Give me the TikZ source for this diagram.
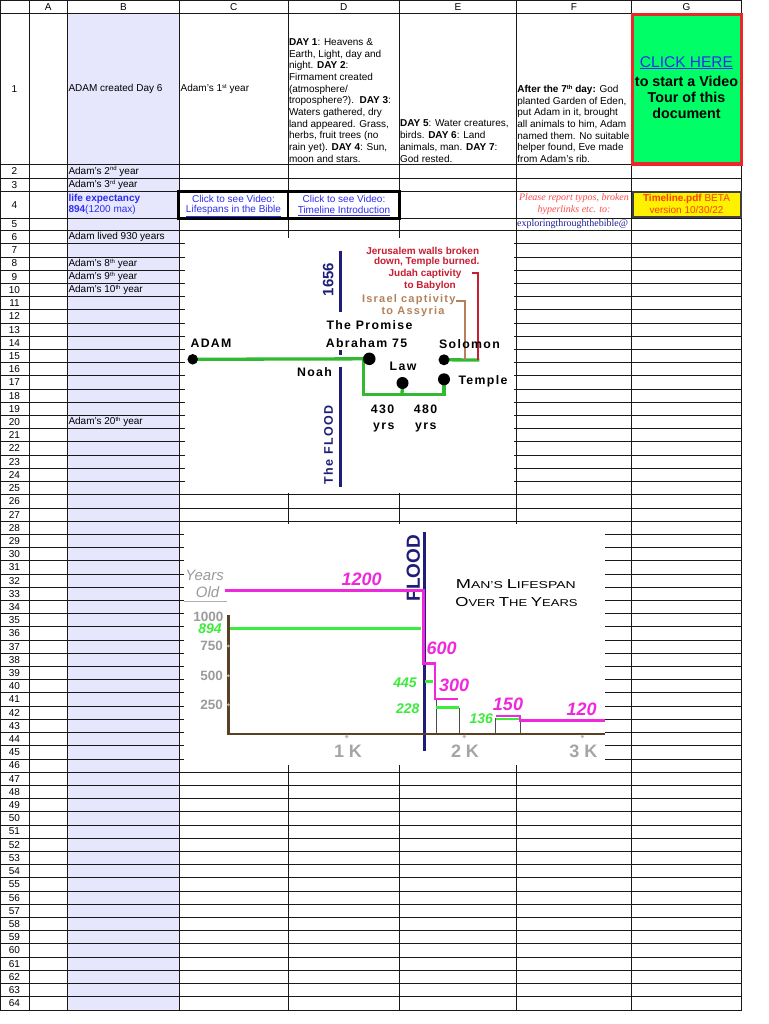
\documentclass[tikz,border=0pt]{standalone}
\usepackage{fontspec}
\setmainfont{Liberation Sans}
\newfontfamily\serifr{Liberation Serif}
\newfontfamily\tlf[LetterSpace=11]{Liberation Sans Bold}
\newcommand{\fsz}[1]{\fontsize{#1}{#1}\selectfont}
\newcommand{\sups}[1]{\raisebox{3.2pt}{\fontsize{6}{6}\selectfont #1}}
\definecolor{lav}{RGB}{230,230,252}
\definecolor{gridc}{RGB}{25,25,25}
\definecolor{lnkblue}{RGB}{45,45,240}
\definecolor{clickgreen}{RGB}{0,255,102}
\definecolor{boxred}{RGB}{235,40,40}
\definecolor{betared}{RGB}{255,60,0}
\definecolor{reportred}{RGB}{255,75,75}
\definecolor{mailblue}{RGB}{30,30,150}
\definecolor{navyc}{RGB}{30,30,120}
\definecolor{tlgreen}{RGB}{50,185,50}
\definecolor{tlred}{RGB}{200,30,50}
\definecolor{tltan}{RGB}{180,130,90}
\definecolor{mag}{RGB}{240,40,220}
\definecolor{brgreen}{RGB}{60,235,60}
\definecolor{axbrown}{RGB}{90,65,35}
\definecolor{lblgray}{RGB}{155,155,155}
\tikzset{
  gridline/.style={draw=gridc,line width=0.8pt},
  cell/.style={font=\fsz{10},inner sep=0pt,anchor=west},
  hdr/.style={font=\fsz{10},inner sep=0pt},
  para/.style={inner sep=0pt,anchor=south west,align=left},
  tl/.style={font=\tlf\fsz{12.3},inner sep=0pt},
  tldot/.style={circle,fill=black,minimum size=11pt,inner sep=0pt},
  gline/.style={draw=tlgreen,line width=3.3pt},
  mline/.style={draw=mag,line width=2.7pt},
  bline/.style={draw=brgreen,line width=2.5pt},
  thin/.style={draw=black!70,line width=0.8pt},
  maglbl/.style={font=\bfseries\itshape\fsz{18},text=mag,inner sep=0pt},
  grnlbl/.style={font=\bfseries\itshape\fsz{14},text=brgreen,inner sep=0pt},
  ylbl/.style={font=\bfseries\fsz{13.5},text=lblgray,inner sep=0pt,anchor=east},
  xlbl/.style={font=\bfseries\fsz{18},text=lblgray!90,inner sep=0pt},
}
\begin{document}
\begin{tikzpicture}[x=1pt,y=-1pt]
\useasboundingbox (0,0) rectangle (768,1024);
\fill[white] (0,0) rectangle (768,1024);
% lavender column B
\fill[lav] (67.3,13.7) rectangle (179.5,1010);
% grid
\foreach \x in {0.5,29,67.3,179.5,288,399.5,516.5,631.5,741.5}
  \draw[gridline] (\x,0) -- (\x,1010);
\foreach \y in {0.5,13.7,164.5,178.3,191.7,218.3}
  \draw[gridline] (0,\y) -- (742,\y);
\foreach \k in {0,...,59}
  \draw[gridline] (0,{230.5+\k*13.21}) -- (742,{230.5+\k*13.21});
% header letters
\foreach \c/\x in {A/48.2,B/123.4,C/233.8,D/343.8,E/458,F/574,G/686.5}
  \node[hdr] (h\c) at (\x,7) {\c};
% row numbers
\node[hdr] (r1) at (14.5,89) {1};
\node[hdr] (r2) at (14.5,171.4) {2};
\node[hdr] (r3) at (14.5,185) {3};
\node[hdr] (r4) at (14.5,205) {4};
\node[hdr] (r5) at (14.5,224.4) {5};
\foreach \n in {6,...,64}
  \node[hdr] (r\n) at (14.5,{230.5+(\n-5.5)*13.21}) {\n};
% column B texts
\node[cell] (b1) at (68.3,88.5) {ADAM created Day 6};
\node[cell] (b2) at (68.3,171.4) {Adam's 2\sups{nd} year};
\node[cell] (b3) at (68.3,185) {Adam's 3\sups{rd} year};
\node[cell,text=lnkblue] (b4a) at (68.3,198.7) {\bfseries life expectancy};
\node[cell,text=lnkblue] (b4b) at (68.3,210.3) {\textbf{894}(1200 max)};
\node[cell] (b6) at (68.3,{230.5+0.5*13.21}) {Adam lived 930 years};
\node[cell] (b8) at (68.3,{230.5+2.5*13.21}) {Adam's 8\sups{th} year};
\node[cell] (b9) at (68.3,{230.5+3.5*13.21}) {Adam's 9\sups{th} year};
\node[cell] (b10) at (68.3,{230.5+4.5*13.21}) {Adam's 10\sups{th} year};
\node[cell] (b20) at (68.3,{230.5+14.5*13.21}) {Adam's 20\sups{th} year};
% row 1 texts
\node[cell] (c1) at (180.5,89) {Adam's 1\sups{st} year};
\node[para,font=\fontsize{10}{11.67}\selectfont] (d1) at (288.8,162.6) {\textbf{DAY 1}: Heavens \&\\Earth, Light, day and\\night. \textbf{DAY 2}:\\Firmament created\\(atmosphere/\\troposphere?).\ \ \textbf{DAY 3}:\\Waters gathered, dry\\land appeared. Grass,\\herbs, fruit trees (no\\rain yet). \textbf{DAY 4}: Sun,\\moon and stars.};
\node[para,font=\fontsize{10}{11.87}\selectfont] (e1) at (399.9,162.6) {\textbf{DAY 5}: Water creatures,\\birds. \textbf{DAY 6}: Land\\animals, man. \textbf{DAY 7}:\\God rested.};
\node[para,font=\fontsize{10}{11.6}\selectfont] (f1) at (517.2,162.6) {\textbf{After the 7\sups{th} day:} God\\planted Garden of Eden,\\put Adam in it, brought\\all animals to him, Adam\\named them. No suitable\\helper found, Eve made\\from Adam's rib.};
% G1 green box
\fill[clickgreen] (632,14) rectangle (741.5,164);
\draw[boxred,line width=3.5pt] (632.5,14.5) rectangle (741.5,164);
\node[inner sep=0pt,font=\fsz{15.5},text=lnkblue] (g1a) at (686.5,62.7) {\underline{CLICK HERE}};
\node[inner sep=0pt,align=center,font=\bfseries\fontsize{14.3}{16.2}\selectfont] (g1b) at (686.5,97.3) {to start a Video\\Tour of this\\document};
% C4, D4 link boxes
\draw[black,line width=2.7pt] (178.3,191.7) rectangle (288,218.3);
\draw[black,line width=2.7pt] (288,191.7) rectangle (399.8,218.3);
\node[hdr,text=lnkblue] (c4a) at (233.5,199.3) {Click to see Video:};
\node[hdr,text=lnkblue] (c4b) at (233.5,210.7) {\underline{Lifespans in the Bible}};
\node[hdr,text=lnkblue] (d4a) at (344,199.3) {Click to see Video:};
\node[hdr,text=lnkblue] (d4b) at (344,210.7) {\underline{Timeline Introduction}};
% F4, F5
\node[inner sep=0pt,font=\serifr\itshape\fsz{10},text=reportred] (f4a) at (574,198.3) {Please report typos, broken};
\node[inner sep=0pt,font=\serifr\itshape\fsz{10},text=reportred] (f4b) at (574,210) {hyperlinks etc. to:};
\node[cell,font=\serifr\fsz{10},text=mailblue] (f5) at (517,224.4) {exploringthroughthebible@};
% G4 yellow box
\fill[yellow] (632.5,192.5) rectangle (741,217.5);
\draw[black!75,line width=2pt] (632.5,192.5) rectangle (741,217.5);
\node[hdr,text=betared] (g4a) at (686.5,198.5) {\textbf{Timeline.pdf} BETA};
\node[hdr,text=betared] (g4b) at (686.5,210.3) {version 10/30/22};

% ===== Timeline image =====
\fill[white] (185,238) rectangle (514,493);
\draw[navyc,line width=2.7pt] (340.7,250.7) -- (340.7,311.7);
\draw[navyc,line width=2.7pt] (340.7,350) -- (340.7,355);
\draw[navyc,line width=2.7pt] (340.7,366.7) -- (340.7,486.7);
\node[inner sep=0pt,rotate=90,font=\bfseries\fsz{15},text=navyc] (t1656) at (328.3,279.5) {1656};
\node[inner sep=0pt,rotate=90,font=\tlf\fsz{12.5},text=navyc] (tflood) at (328.3,445) {The FLOOD};
\coordinate (pAdam) at (192.7,359.3);
\coordinate (pAbr) at (369.3,358.8);
\coordinate (pAbrDown) at (363.3,359.3);
\coordinate (pLaw) at (402.5,383);
\coordinate (pSol) at (444,359.8);
\coordinate (pTem) at (444,379.3);
\coordinate (pBase) at (363.3,394.5);
\coordinate (pBaseR) at (444,394.5);
\coordinate (pLawB) at (402,394.5);
\coordinate (pEnd) at (479.3,360);
\coordinate (pTan) at (465,360);
\coordinate (pTanTop) at (465,301);
\coordinate (pTanL) at (456,301);
\coordinate (pRed) at (478.3,360);
\coordinate (pRedTop) at (478.3,273.3);
\coordinate (pRedL) at (471.7,273.3);
\draw[gline] (pAdam) -- (pAbr);
\draw[gline] (pAbrDown) -- (pBase) -- (pBaseR) -- (pTem);
\draw[gline] (pLaw) -- (pLawB);
\draw[gline] (pSol) -- (pEnd);
\draw[tltan,line width=1.6pt] (pTan) -- (pTanTop) -- (pTanL);
\draw[tlred,line width=1.8pt] (pRed) -- (pRedTop) -- (pRedL);
\node[tldot,minimum size=10.5pt] (dAdam) at (pAdam) {};
\node[tldot,minimum size=12.5pt] (dAbr) at (pAbr) {};
\node[tldot,minimum size=12pt] (dLaw) at (pLaw) {};
\node[tldot,minimum size=11pt] (dSol) at (pSol) {};
\node[tldot,minimum size=12pt] (dTem) at (pTem) {};
\node[tl] (lAdam) at (211,343) {ADAM};
\node[tl] (lNoah) at (314.5,371.7) {Noah};
\node[tl] (lProm) at (369.5,325) {The Promise};
\node[tl] (lAbr) at (366.5,343.3) {Abraham 75};
\node[tl] (lSol) at (469.5,344) {Solomon};
\node[tl] (lLaw) at (403,366.7) {Law};
\node[tl] (lTem) at (483,381.7) {Temple};
\node[tl] (l430) at (382.5,409) {430};
\node[tl] (l430y) at (383.8,427.3) {yrs};
\node[tl] (l480) at (425.5,409) {480};
\node[tl] (l480y) at (425.8,427.3) {yrs};
\node[inner sep=0pt,font=\bfseries\fsz{10},text=tlred] (j1) at (422.7,250.7) {Jerusalem walls broken};
\node[inner sep=0pt,font=\bfseries\fsz{10},text=tlred] (j2) at (426.7,262.3) {down, Temple burned.};
\node[inner sep=0pt,font=\bfseries\fsz{10},text=tlred] (j3) at (425,274) {Judah captivity};
\node[inner sep=0pt,font=\bfseries\fsz{10},text=tlred] (j4) at (430,285.7) {to Babylon};
\node[inner sep=0pt,font=\tlf\fsz{11},text=tltan] (i1) at (408.8,300) {Israel captivity};
\node[inner sep=0pt,font=\tlf\fsz{11},text=tltan] (i2) at (413,311.7) {to Assyria};

% ===== Lifespan chart =====
\fill[white] (184,524) rectangle (605,765);
\draw[navyc,line width=3pt] (424,531.7) -- (424,750.7);
\node[inner sep=0pt,rotate=90,font=\bfseries\fsz{19},text=navyc] (cflood) at (413.3,568.3) {FLOOD};
\draw[lblgray!80,line width=1pt] (184,601.7) -- (227,601.7);
\node[inner sep=0pt,anchor=east,font=\itshape\fsz{15},text=lblgray] (yrs) at (224,575) {Years};
\node[inner sep=0pt,anchor=east,font=\itshape\fsz{15},text=lblgray] (old) at (219.5,592) {Old};
% gray bars
\draw[thin] (436,699) -- (436,734);
\draw[thin] (459.3,707.7) -- (459.3,734);
\draw[thin] (495.7,718) -- (495.7,734);
\draw[thin] (520,718) -- (520,734);
% green levels
\draw[bline] (228.3,628.3) -- (421,628.3);
\draw[bline] (425,681.7) -- (433,681.7);
\draw[bline] (436,707.7) -- (459.3,707.7);
\draw[bline] (495.7,719) -- (520,719);
% magenta lifespan
\draw[mline] (225,590.7) -- (423.8,590.7) -- (423.8,663.3) -- (435,663.3) -- (435,699) -- (458.3,699);
\draw[mline] (495.7,716) -- (520,716) -- (520,720.3) -- (605,720.3);
% axes
\draw[axbrown,line width=2.5pt] (228.3,615) -- (228.3,734) -- (605,734);
\foreach \yy in {646,675.7,704.7} \fill[lblgray!70] (228.3,\yy) circle (1.5);
\foreach \xx in {346.7,464.3,582.3} \fill[lblgray!70] (\xx,736.5) circle (1.8);
\node[ylbl] (y1000) at (223.5,616.5) {1000};
\node[ylbl] (y750) at (223,646) {750};
\node[ylbl] (y500) at (223,675.7) {500};
\node[ylbl] (y250) at (223,705) {250};
\node[grnlbl] (g894) at (210,628.8) {894};
\node[grnlbl] (g445) at (405,682.7) {445};
\node[grnlbl] (g228) at (407.7,708.3) {228};
\node[grnlbl] (g136) at (481.3,719) {136};
\node[maglbl] (m1200) at (361.7,579.3) {1200};
\node[maglbl] (m600) at (441.7,648.3) {600};
\node[maglbl] (m300) at (454.2,685.7) {300};
\node[maglbl] (m150) at (508,704) {150};
\node[maglbl] (m120) at (581.7,709.3) {120};
\node[xlbl] (x1) at (348,751.7) {1 K};
\node[xlbl] (x2) at (465,751.7) {2 K};
\node[xlbl] (x3) at (583.3,751.7) {3 K};
\node[inner sep=0pt] (ttl1) at (515.8,584) {\scalebox{1.4}[1]{\fsz{13}M\fsz{10}AN'S \fsz{13}L\fsz{10}IFESPAN}};
\node[inner sep=0pt] (ttl2) at (516.5,601.7) {\scalebox{1.3}[1]{\fsz{13}O\fsz{10}VER \fsz{13}T\fsz{10}HE \fsz{13}Y\fsz{10}EARS}};
\end{tikzpicture}
\end{document}
